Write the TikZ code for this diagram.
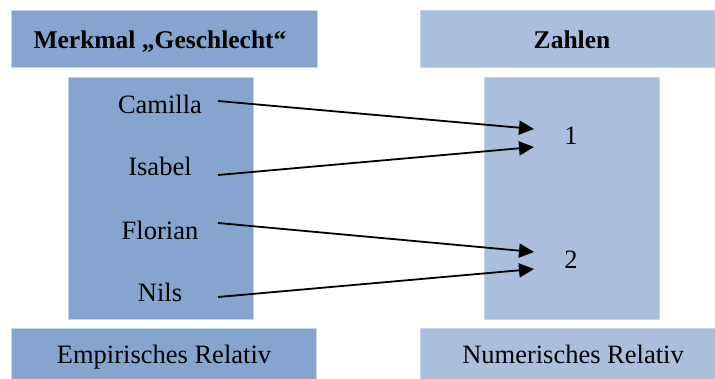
\documentclass[tikz,border=0pt]{standalone}
\usepackage{fontspec}
\setmainfont{Liberation Serif}
\usetikzlibrary{arrows.meta}
\definecolor{darkblue}{HTML}{85A5CF}
\definecolor{lightblue}{HTML}{A9BFDD}
\definecolor{edgeblue}{HTML}{C3D3E9}
\begin{document}
\begin{tikzpicture}[x=1pt,y=-1pt,
  lbl/.style={font=\fontsize{26.5}{30}\selectfont, inner sep=0pt, anchor=base},
  hdr/.style={font=\bfseries\fontsize{25.5}{30}\selectfont, inner sep=0pt, anchor=base},
  dbox/.style={fill=darkblue, draw=edgeblue, line width=0.6pt},
  lbox/.style={fill=lightblue, draw=edgeblue, line width=0.6pt},
  conn/.style={line width=1.8pt, -{Triangle[length=15pt,width=14pt]}}]
\useasboundingbox (0,0) rectangle (715,379);
% boxes
\path[dbox] (11,10) rectangle (317,67);
\path[lbox] (420,10) rectangle (716,67);
\path[dbox] (68,77) rectangle (253,319);
\path[lbox] (484,77) rectangle (659,319);
\path[dbox] (11,328) rectangle (316,380);
\path[lbox] (420,328) rectangle (716,380);
% headers
\node[hdr] (hleft) at (160,49) {Merkmal „Geschlecht“};
\node[hdr] (hright) at (572,49) {Zahlen};
% names
\node[lbl] (camilla) at (160,114) {Camilla};
\node[lbl] (isabel) at (160,176) {Isabel};
\node[lbl] (florian) at (160,240) {Florian};
\node[lbl] (nils) at (160,302) {Nils};
% numbers
\node[lbl] (one) at (571,145) {1};
\node[lbl] (two) at (571,269) {2};
% footers
\node[lbl] (emp) at (164,363) {Empirisches Relativ};
\node[lbl] (num) at (573,363) {Numerisches Relativ};
% connector ends
\coordinate (s1) at (218,101);
\coordinate (s2) at (218,175);
\coordinate (s3) at (218,223);
\coordinate (s4) at (218,297);
\coordinate (t1) at (534,129);
\coordinate (t2) at (534,147);
\coordinate (t3) at (534,252);
\coordinate (t4) at (534,269);
\draw[conn] (s1) -- (t1);
\draw[conn] (s2) -- (t2);
\draw[conn] (s3) -- (t3);
\draw[conn] (s4) -- (t4);
\end{tikzpicture}
\end{document}
